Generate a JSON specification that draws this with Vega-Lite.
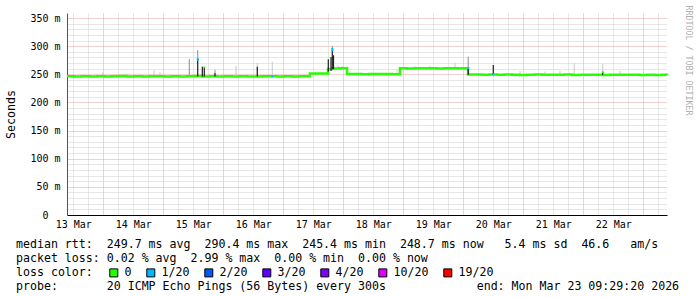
{
  "$schema": "https://vega.github.io/schema/vega-lite/v6.json",
  "width": 600,
  "height": 202,
  "autosize": "none",
  "padding": {"left": 67, "top": 13, "right": 30, "bottom": 82},
  "background": "white",
  "config": {"view": {"stroke": null}, "font": "DejaVu Sans Mono"},
  "title": {
    "text": [
      "median rtt:\u00a0\u00a0249.7 ms avg\u00a0\u00a0290.4 ms max\u00a0\u00a0245.4 ms min\u00a0\u00a0248.7 ms now\u00a0\u00a0\u00a05.4 ms sd\u00a0\u00a046.6\u00a0\u00a0\u00a0am/s",
      "packet loss: 0.02 % avg\u00a0\u00a02.99 % max\u00a0\u00a00.00 % min\u00a0\u00a00.00 % now",
      "loss color:",
      "probe:\u00a0\u00a0\u00a0\u00a0\u00a0\u00a0\u00a020 ICMP Echo Pings (56 Bytes) every 300s\u00a0\u00a0\u00a0\u00a0\u00a0\u00a0\u00a0\u00a0\u00a0\u00a0\u00a0\u00a0\u00a0end: Mon Mar 23 09:29:20 2026"
    ],
    "orient": "bottom",
    "anchor": "start",
    "frame": "group",
    "font": "DejaVu Sans Mono",
    "fontSize": 11.6,
    "fontWeight": "normal",
    "color": "#000000",
    "dx": -51,
    "dy": -48,
    "offset": 8,
    "lineHeight": 14
  },
  "datasets": {
    "med": [
      {"t": "2026-03-13T09:30:00", "v": 246.5}, {"t": "2026-03-13T12:30:00", "v": 246.0}, {"t": "2026-03-13T15:30:00", "v": 246.8}, {"t": "2026-03-13T18:30:00", "v": 246.2}, {"t": "2026-03-13T21:30:00", "v": 246.6},
      {"t": "2026-03-14T00:30:00", "v": 246.0}, {"t": "2026-03-14T03:30:00", "v": 246.5}, {"t": "2026-03-14T06:30:00", "v": 246.9}, {"t": "2026-03-14T09:30:00", "v": 246.3}, {"t": "2026-03-14T12:30:00", "v": 246.7}, {"t": "2026-03-14T15:30:00", "v": 246.0}, {"t": "2026-03-14T18:30:00", "v": 246.4}, {"t": "2026-03-14T21:30:00", "v": 246.8},
      {"t": "2026-03-15T00:30:00", "v": 246.2}, {"t": "2026-03-15T03:30:00", "v": 246.5}, {"t": "2026-03-15T06:30:00", "v": 246.0}, {"t": "2026-03-15T09:30:00", "v": 246.6}, {"t": "2026-03-15T12:30:00", "v": 246.9}, {"t": "2026-03-15T15:30:00", "v": 246.3}, {"t": "2026-03-15T18:30:00", "v": 246.5}, {"t": "2026-03-15T21:30:00", "v": 246.0},
      {"t": "2026-03-16T00:30:00", "v": 246.6}, {"t": "2026-03-16T03:30:00", "v": 246.2}, {"t": "2026-03-16T06:30:00", "v": 246.8}, {"t": "2026-03-16T09:30:00", "v": 246.3}, {"t": "2026-03-16T12:30:00", "v": 246.0}, {"t": "2026-03-16T15:30:00", "v": 246.5}, {"t": "2026-03-16T18:30:00", "v": 246.7}, {"t": "2026-03-16T21:30:00", "v": 246.2},
      {"t": "2026-03-17T00:30:00", "v": 246.5}, {"t": "2026-03-17T03:30:00", "v": 246.0}, {"t": "2026-03-17T06:30:00", "v": 246.6}, {"t": "2026-03-17T09:30:00", "v": 246.4}, {"t": "2026-03-17T10:40:00", "v": 251.5}, {"t": "2026-03-17T13:30:00", "v": 251.3}, {"t": "2026-03-17T16:30:00", "v": 251.7}, {"t": "2026-03-17T17:55:00", "v": 259.5}, {"t": "2026-03-17T19:30:00", "v": 260.5}, {"t": "2026-03-17T22:30:00", "v": 260.8},
      {"t": "2026-03-18T01:30:00", "v": 250.5}, {"t": "2026-03-18T04:30:00", "v": 250.8}, {"t": "2026-03-18T07:30:00", "v": 250.3}, {"t": "2026-03-18T10:30:00", "v": 250.6}, {"t": "2026-03-18T13:30:00", "v": 250.4}, {"t": "2026-03-18T16:30:00", "v": 250.7}, {"t": "2026-03-18T19:30:00", "v": 250.3}, {"t": "2026-03-18T22:40:00", "v": 260.7},
      {"t": "2026-03-19T01:30:00", "v": 260.5}, {"t": "2026-03-19T04:30:00", "v": 260.9}, {"t": "2026-03-19T07:30:00", "v": 260.6}, {"t": "2026-03-19T10:30:00", "v": 260.8}, {"t": "2026-03-19T13:30:00", "v": 260.5}, {"t": "2026-03-19T16:30:00", "v": 260.9}, {"t": "2026-03-19T19:30:00", "v": 260.6}, {"t": "2026-03-19T22:30:00", "v": 260.7},
      {"t": "2026-03-20T01:55:00", "v": 249.5}, {"t": "2026-03-20T04:30:00", "v": 249.8}, {"t": "2026-03-20T07:30:00", "v": 249.3}, {"t": "2026-03-20T10:30:00", "v": 249.6}, {"t": "2026-03-20T13:30:00", "v": 249.2}, {"t": "2026-03-20T16:30:00", "v": 249.5}, {"t": "2026-03-20T19:30:00", "v": 249.4}, {"t": "2026-03-20T22:30:00", "v": 249.0},
      {"t": "2026-03-21T01:30:00", "v": 249.3}, {"t": "2026-03-21T04:30:00", "v": 249.5}, {"t": "2026-03-21T07:30:00", "v": 249.1}, {"t": "2026-03-21T10:30:00", "v": 249.4}, {"t": "2026-03-21T13:30:00", "v": 249.2}, {"t": "2026-03-21T16:30:00", "v": 249.5}, {"t": "2026-03-21T19:30:00", "v": 249.0}, {"t": "2026-03-21T22:30:00", "v": 249.3},
      {"t": "2026-03-22T01:30:00", "v": 249.2}, {"t": "2026-03-22T04:30:00", "v": 249.4}, {"t": "2026-03-22T07:30:00", "v": 249.0}, {"t": "2026-03-22T10:30:00", "v": 249.3}, {"t": "2026-03-22T13:30:00", "v": 249.1}, {"t": "2026-03-22T16:30:00", "v": 249.4}, {"t": "2026-03-22T19:30:00", "v": 249.2}, {"t": "2026-03-22T22:30:00", "v": 249.0},
      {"t": "2026-03-23T01:30:00", "v": 249.2}, {"t": "2026-03-23T04:30:00", "v": 248.9}, {"t": "2026-03-23T07:30:00", "v": 249.1}, {"t": "2026-03-23T09:30:00", "v": 248.7}
    ],
    "spk": [
      {"t": "2026-03-13T23:47:00", "lo": 246, "hi": 253, "k": "light"},
      {"t": "2026-03-14T20:18:00", "lo": 246, "hi": 257, "k": "light"},
      {"t": "2026-03-14T22:42:00", "lo": 246, "hi": 254, "k": "light"},
      {"t": "2026-03-16T05:06:00", "lo": 246, "hi": 265, "k": "light"},
      {"t": "2026-03-16T13:37:00", "lo": 246, "hi": 270, "k": "light"},
      {"t": "2026-03-16T19:37:00", "lo": 246, "hi": 272.4, "k": "light"},
      {"t": "2026-03-17T21:54:00", "lo": 260, "hi": 266, "k": "light"},
      {"t": "2026-03-17T23:30:00", "lo": 260, "hi": 265, "k": "light"},
      {"t": "2026-03-18T21:30:00", "lo": 250, "hi": 257.7, "k": "light"},
      {"t": "2026-03-19T04:42:00", "lo": 260, "hi": 264, "k": "light"},
      {"t": "2026-03-19T10:42:00", "lo": 260, "hi": 265, "k": "light"},
      {"t": "2026-03-19T16:18:00", "lo": 260, "hi": 263.5, "k": "light"},
      {"t": "2026-03-19T20:42:00", "lo": 260, "hi": 270.6, "k": "light"},
      {"t": "2026-03-20T22:42:00", "lo": 249, "hi": 256, "k": "light"},
      {"t": "2026-03-21T08:42:00", "lo": 249, "hi": 255, "k": "light"},
      {"t": "2026-03-21T14:42:00", "lo": 249, "hi": 256, "k": "light"},
      {"t": "2026-03-21T20:25:00", "lo": 249, "hi": 269.6, "k": "light"},
      {"t": "2026-03-22T07:47:00", "lo": 249, "hi": 269, "k": "light"},
      {"t": "2026-03-22T14:42:00", "lo": 249, "hi": 256, "k": "light"},
      {"t": "2026-03-15T10:24:00", "lo": 246, "hi": 277, "k": "mid"},
      {"t": "2026-03-15T13:47:00", "lo": 278, "hi": 293, "k": "mid"},
      {"t": "2026-03-15T20:42:00", "lo": 246, "hi": 257.7, "k": "mid"},
      {"t": "2026-03-17T19:37:00", "lo": 292, "hi": 300, "k": "mid"},
      {"t": "2026-03-20T01:59:00", "lo": 261, "hi": 281.3, "k": "mid"},
      {"t": "2026-03-15T13:47:00", "lo": 246, "hi": 278, "k": "dark"},
      {"t": "2026-03-15T15:38:00", "lo": 246, "hi": 263.5, "k": "dark"},
      {"t": "2026-03-15T16:25:00", "lo": 246, "hi": 262, "k": "dark"},
      {"t": "2026-03-15T20:42:00", "lo": 246, "hi": 252, "k": "dark"},
      {"t": "2026-03-16T13:37:00", "lo": 246, "hi": 263.5, "k": "dark"},
      {"t": "2026-03-17T18:01:00", "lo": 255, "hi": 277, "k": "dark"},
      {"t": "2026-03-17T19:06:00", "lo": 256, "hi": 281, "k": "dark"},
      {"t": "2026-03-17T19:37:00", "lo": 259, "hi": 292, "k": "dark"},
      {"t": "2026-03-17T20:06:00", "lo": 259, "hi": 284, "k": "dark"},
      {"t": "2026-03-20T01:59:00", "lo": 249, "hi": 261, "k": "dark"},
      {"t": "2026-03-20T12:01:00", "lo": 249, "hi": 266.5, "k": "dark"},
      {"t": "2026-03-22T07:47:00", "lo": 249, "hi": 254.6, "k": "dark"}
    ],
    "loss": [
      {"t": "2026-03-15T13:47:00", "lo": 274, "hi": 278.5, "loss": "1/20"},
      {"t": "2026-03-15T16:25:00", "lo": 261, "hi": 264, "loss": "0"},
      {"t": "2026-03-16T19:37:00", "lo": 244.5, "hi": 248, "loss": "1/20"},
      {"t": "2026-03-17T19:37:00", "lo": 291, "hi": 297, "loss": "1/20"},
      {"t": "2026-03-20T01:59:00", "lo": 259, "hi": 262.5, "loss": "1/20"},
      {"t": "2026-03-20T12:01:00", "lo": 248.5, "hi": 252, "loss": "1/20"},
      {"t": "2026-03-22T07:47:00", "lo": 252, "hi": 255, "loss": "0"}
    ]
  },
  "layer": [
    {
      "data": {"name": "spk"},
      "transform": [{"filter": "datum.k == 'light'"}],
      "mark": {"type": "rule", "color": "#c8c8c8", "strokeWidth": 1},
      "encoding": {
        "x": {
          "field": "t", "type": "temporal",
          "scale": {"domain": [{"year": 2026, "month": 3, "date": 13, "hours": 9, "minutes": 30}, {"year": 2026, "month": 3, "date": 23, "hours": 9, "minutes": 30}], "nice": false, "padding": 0},
          "axis": {
            "orient": "bottom",
            "values": [
              {"year": 2026, "month": 3, "date": 13, "hours": 12}, {"year": 2026, "month": 3, "date": 13, "hours": 18},
              {"year": 2026, "month": 3, "date": 14, "hours": 6}, {"year": 2026, "month": 3, "date": 14, "hours": 12}, {"year": 2026, "month": 3, "date": 14, "hours": 18},
              {"year": 2026, "month": 3, "date": 15, "hours": 6}, {"year": 2026, "month": 3, "date": 15, "hours": 12}, {"year": 2026, "month": 3, "date": 15, "hours": 18},
              {"year": 2026, "month": 3, "date": 16, "hours": 6}, {"year": 2026, "month": 3, "date": 16, "hours": 12}, {"year": 2026, "month": 3, "date": 16, "hours": 18},
              {"year": 2026, "month": 3, "date": 17, "hours": 6}, {"year": 2026, "month": 3, "date": 17, "hours": 12}, {"year": 2026, "month": 3, "date": 17, "hours": 18},
              {"year": 2026, "month": 3, "date": 18, "hours": 6}, {"year": 2026, "month": 3, "date": 18, "hours": 12}, {"year": 2026, "month": 3, "date": 18, "hours": 18},
              {"year": 2026, "month": 3, "date": 19, "hours": 6}, {"year": 2026, "month": 3, "date": 19, "hours": 12}, {"year": 2026, "month": 3, "date": 19, "hours": 18},
              {"year": 2026, "month": 3, "date": 20, "hours": 6}, {"year": 2026, "month": 3, "date": 20, "hours": 12}, {"year": 2026, "month": 3, "date": 20, "hours": 18},
              {"year": 2026, "month": 3, "date": 21, "hours": 6}, {"year": 2026, "month": 3, "date": 21, "hours": 12}, {"year": 2026, "month": 3, "date": 21, "hours": 18},
              {"year": 2026, "month": 3, "date": 22, "hours": 6}, {"year": 2026, "month": 3, "date": 22, "hours": 12}, {"year": 2026, "month": 3, "date": 22, "hours": 18},
              {"year": 2026, "month": 3, "date": 23, "hours": 6}
            ],
            "grid": true, "gridColor": "#cfcfcf", "gridDash": [1, 1], "gridWidth": 1,
            "ticks": false, "labels": false, "domain": false, "title": null
          }
        },
        "y": {
          "field": "lo", "type": "quantitative",
          "scale": {"domain": [0, 359], "nice": false, "padding": 0},
          "axis": {
            "orient": "left",
            "values": [0, 10, 20, 30, 40, 60, 70, 80, 90, 110, 120, 130, 140, 160, 170, 180, 190, 210, 220, 230, 240, 260, 270, 280, 290, 310, 320, 330, 340],
            "grid": true, "gridColor": "#cfcfcf", "gridDash": [1, 1], "gridWidth": 1,
            "ticks": false, "domain": false, "title": null,
            "labels": true,
            "labelExpr": "datum.value == 0 ? '0' : ''",
            "labelFont": "DejaVu Sans Mono",
            "labelFontSize": 10,
            "labelColor": "#000000",
            "labelPadding": 19,
            "labelOverlap": false,
            "labelBound": false
          }
        },
        "y2": {"field": "hi"}
      }
    },
    {
      "data": {"name": "spk"},
      "transform": [{"filter": "datum.k == 'mid'"}],
      "mark": {"type": "rule", "color": "#8c8c8c", "strokeWidth": 1},
      "encoding": {
        "x": {
          "field": "t", "type": "temporal",
          "axis": {
            "orient": "bottom",
            "values": [
              {"year": 2026, "month": 3, "date": 14}, {"year": 2026, "month": 3, "date": 15}, {"year": 2026, "month": 3, "date": 16}, {"year": 2026, "month": 3, "date": 17}, {"year": 2026, "month": 3, "date": 18},
              {"year": 2026, "month": 3, "date": 19}, {"year": 2026, "month": 3, "date": 20}, {"year": 2026, "month": 3, "date": 21}, {"year": 2026, "month": 3, "date": 22}, {"year": 2026, "month": 3, "date": 23}
            ],
            "grid": true, "gridColor": "#e6a2a2", "gridDash": [1, 1], "gridWidth": 1,
            "ticks": false, "labels": false, "domain": false, "title": null
          }
        },
        "y": {
          "field": "lo", "type": "quantitative",
          "axis": {
            "orient": "left",
            "values": [50, 100, 150, 200, 250, 300, 350],
            "grid": true, "gridColor": "#e6a2a2", "gridDash": [1, 1], "gridWidth": 1,
            "ticks": false,
            "domain": true, "domainColor": "#555555",
            "labelExpr": "datum.value + ' m'",
            "labelFont": "DejaVu Sans Mono",
            "labelFontSize": 10,
            "labelColor": "#000000",
            "labelPadding": 7,
            "labelOverlap": false,
            "labelBound": false,
            "title": "Seconds",
            "titleFont": "DejaVu Sans Mono",
            "titleFontSize": 11.6,
            "titleFontWeight": "normal",
            "titleColor": "#000000",
            "titleX": -56,
            "titleY": 101,
            "titleAngle": -90,
            "titleAlign": "center",
            "titleBaseline": "middle"
          }
        },
        "y2": {"field": "hi"}
      }
    },
    {
      "data": {"name": "med"},
      "mark": {"type": "line", "color": "#26ff00", "strokeWidth": 2.5, "interpolate": "step-after"},
      "encoding": {
        "x": {
          "field": "t", "type": "temporal",
          "axis": {
            "orient": "bottom",
            "values": [
              {"year": 2026, "month": 3, "date": 13, "hours": 12}, {"year": 2026, "month": 3, "date": 14, "hours": 12}, {"year": 2026, "month": 3, "date": 15, "hours": 12}, {"year": 2026, "month": 3, "date": 16, "hours": 12}, {"year": 2026, "month": 3, "date": 17, "hours": 12},
              {"year": 2026, "month": 3, "date": 18, "hours": 12}, {"year": 2026, "month": 3, "date": 19, "hours": 12}, {"year": 2026, "month": 3, "date": 20, "hours": 12}, {"year": 2026, "month": 3, "date": 21, "hours": 12}, {"year": 2026, "month": 3, "date": 22, "hours": 12}
            ],
            "format": "%d %b",
            "grid": false,
            "ticks": false,
            "domain": true,
            "domainColor": "#000000",
            "labelFont": "DejaVu Sans Mono",
            "labelFontSize": 10,
            "labelColor": "#000000",
            "labelPadding": 4,
            "labelOverlap": false,
            "labelFlush": false,
            "labelBound": false,
            "title": null
          }
        },
        "y": {"field": "v", "type": "quantitative", "axis": null}
      }
    },
    {
      "data": {"name": "spk"},
      "transform": [{"filter": "datum.k == 'dark'"}],
      "mark": {"type": "rule", "color": "#1e1e1e", "strokeWidth": 1.2},
      "encoding": {
        "x": {"field": "t", "type": "temporal", "axis": null},
        "y": {"field": "lo", "type": "quantitative", "axis": null},
        "y2": {"field": "hi"}
      }
    },
    {
      "data": {"name": "loss"},
      "mark": {"type": "bar", "size": 2},
      "encoding": {
        "x": {"field": "t", "type": "temporal", "axis": null},
        "y": {
          "field": "lo", "type": "quantitative",
          "axis": {
            "orient": "right",
            "grid": false, "ticks": false, "labels": false, "domain": false,
            "title": "RRDTOOL / TOBI OETIKER",
            "titleColor": "#b0b0b0",
            "titleFont": "DejaVu Sans Mono",
            "titleFontSize": 8.3,
            "titleFontWeight": "normal",
            "titleAngle": 90,
            "titleAlign": "left",
            "titleBaseline": "middle",
            "titleX": 20,
            "titleY": -8
          }
        },
        "y2": {"field": "hi"},
        "color": {
          "field": "loss", "type": "nominal",
          "scale": {"domain": ["0", "1/20", "2/20", "3/20", "4/20", "10/20", "19/20"], "range": ["#26ff00", "#00b8ff", "#0059ff", "#5e00ff", "#7e00ff", "#dd00ff", "#ff0000"]},
          "legend": {
            "orient": "none",
            "legendX": 41,
            "legendY": 254,
            "direction": "horizontal",
            "title": null,
            "labelFont": "DejaVu Sans Mono",
            "labelFontSize": 11.6,
            "labelColor": "#000000",
            "labelOffset": 5,
            "columnPadding": 12,
            "symbolType": "square",
            "symbolSize": 64,
            "symbolStrokeColor": "#000000",
            "symbolStrokeWidth": 1,
            "symbolOpacity": 1,
            "padding": 0
          }
        }
      }
    }
  ],
  "resolve": {"axis": {"x": "independent", "y": "independent"}}
}
